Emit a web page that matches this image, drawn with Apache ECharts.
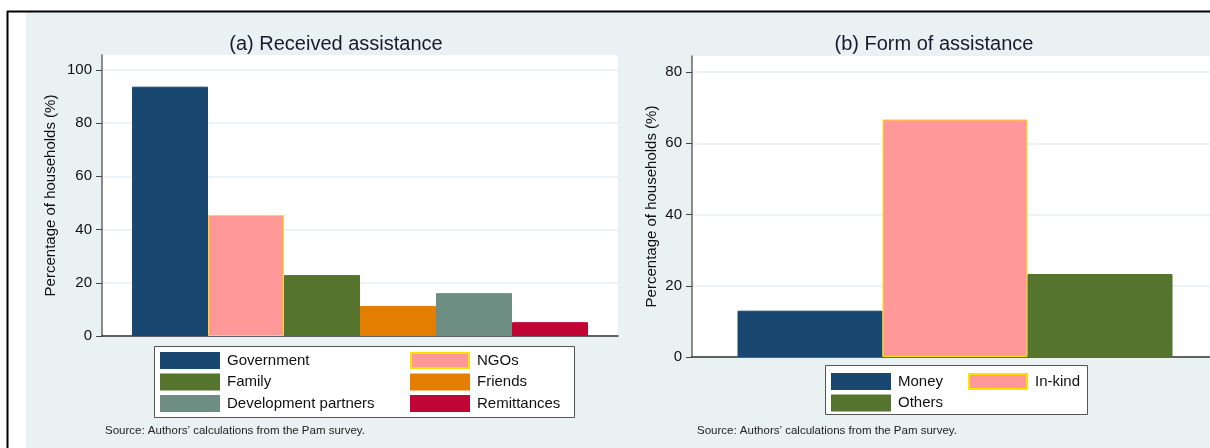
<!DOCTYPE html>
<html>
<head>
<meta charset="utf-8">
<script src="https://cdn.jsdelivr.net/npm/echarts@6/dist/echarts.min.js"></script>
<style>
  html, body { margin: 0; padding: 0; background: #fff; }
  #chart { width: 1210px; height: 448px; }
</style>
</head>
<body>
<div id="chart"></div>
<script>
// (a) Received assistance
const receivedNames = ['Government', 'NGOs', 'Family', 'Friends', 'Development partners', 'Remittances'];
const receivedValues = [93.7, 45.5, 22.9, 11.3, 16.1, 5.2];
const receivedColors = ['#1a476f', '#ff9999', '#55752f', '#e37e00', '#6e8e84', '#c10534'];
const receivedTicks = [0, 20, 40, 60, 80, 100];

// (b) Form of assistance
const formNames = ['Money', 'In-kind', 'Others'];
const formValues = [13.0, 66.7, 23.3];
const formColors = ['#1a476f', '#ff9999', '#55752f'];
const formTicks = [0, 20, 40, 60, 80];

const yTitle = 'Percentage of households (%)';
const sourceNote = 'Source: Authors\u2019 calculations from the Pam survey.';

const FONT = 'Liberation Sans, Arial, sans-serif';
const chart = echarts.init(document.getElementById('chart'));

// one series per bar, all in a single category so they sit side by side
function makeSeries(names, values, colors, axisIdx, width) {
  return names.map((name, i) => ({
    name: name,
    type: 'bar',
    xAxisIndex: axisIdx,
    yAxisIndex: axisIdx,
    barWidth: width,
    barGap: '0%',
    data: [values[i]],
    itemStyle: {
      color: colors[i],
      borderColor: colors[i] === '#ff9999' ? '#ffe100' : colors[i],
      borderWidth: 1
    },
    emphasis: { disabled: true }
  }));
}

function yAxisFor(idx, max, ticks, gap) {
  return {
    type: 'value',
    gridIndex: idx,
    min: 0,
    max: max,
    interval: 20,
    name: yTitle,
    nameLocation: 'middle',
    nameRotate: 90,
    nameGap: gap,
    nameTextStyle: { fontSize: 15, color: '#111', fontFamily: FONT },
    axisLine: { show: true, lineStyle: { color: '#666', width: 1.5 } },
    axisTick: { show: true, length: 6, lineStyle: { color: '#444' }, customValues: ticks },
    axisLabel: { color: '#111', fontSize: 15, margin: 10, fontFamily: FONT, customValues: ticks },
    splitLine: { show: true, lineStyle: { color: '#e6eef2', width: 1.5 } }
  };
}

function xAxisFor(idx) {
  return {
    type: 'category',
    gridIndex: idx,
    data: [''],
    axisLine: { show: true, lineStyle: { color: '#333', width: 1.5 } },
    axisTick: { show: false },
    axisLabel: { show: false }
  };
}

function legendCol(names, left, top) {
  return {
    data: names,
    orient: 'vertical',
    left: left,
    top: top,
    padding: 0,
    icon: 'rect',
    itemWidth: 58,
    itemHeight: 15,
    itemGap: 4.5,
    selectedMode: false,
    textStyle: { fontSize: 15, lineHeight: 15, color: '#111', fontFamily: FONT, padding: [0, 0, 0, 3] }
  };
}

const option = {
  backgroundColor: '#e9f1f3',
  animation: false,
  textStyle: { fontFamily: FONT },
  title: [
    { text: '(a) Received assistance', left: 331, top: 29, textAlign: 'center',
      textStyle: { fontSize: 20, fontWeight: 'normal', color: '#1a1a2e', fontFamily: FONT } },
    { text: '(b) Form of assistance', left: 929, top: 29, textAlign: 'center',
      textStyle: { fontSize: 20, fontWeight: 'normal', color: '#1a1a2e', fontFamily: FONT } }
  ],
  grid: [
    { left: 102, top: 55, width: 516, height: 281, show: true, backgroundColor: '#fff', borderWidth: 0 },
    { left: 692, top: 56, width: 518, height: 301, show: true, backgroundColor: '#fff', borderWidth: 0 }
  ],
  xAxis: [xAxisFor(0), xAxisFor(1)],
  yAxis: [yAxisFor(0, 105.6, receivedTicks, 44), yAxisFor(1, 84.5, formTicks, 33)],
  legend: [
    legendCol(['Government', 'Family', 'Development partners'], 160, 352),
    legendCol(['NGOs', 'Friends', 'Remittances'], 410, 352),
    legendCol(['Money', 'Others'], 831, 373),
    legendCol(['In-kind'], 968, 373)
  ],
  graphic: [
    { type: 'rect', shape: { x: 0, y: 0, width: 1210, height: 11 }, style: { fill: '#fff' }, silent: true },
    { type: 'rect', shape: { x: 0, y: 0, width: 26, height: 448 }, style: { fill: '#fff' }, silent: true },
    { type: 'line', shape: { x1: 7.5, y1: 11, x2: 7.5, y2: 448 }, style: { stroke: '#000', lineWidth: 2 }, silent: true },
    { type: 'line', shape: { x1: 7, y1: 11.5, x2: 1210, y2: 11.5 }, style: { stroke: '#000', lineWidth: 2 }, silent: true },
    { type: 'rect', z: 1, shape: { x: 154.5, y: 346.5, width: 420, height: 71 }, style: { fill: '#fff', stroke: '#555', lineWidth: 1 }, silent: true },
    { type: 'rect', z: 1, shape: { x: 825.5, y: 365.5, width: 262, height: 49 }, style: { fill: '#fff', stroke: '#555', lineWidth: 1 }, silent: true },
    { type: 'text', left: 105, top: 425, style: { text: sourceNote, fontSize: 11.5, fill: '#222', fontFamily: FONT }, silent: true },
    { type: 'text', left: 697, top: 425, style: { text: sourceNote, fontSize: 11.5, fill: '#222', fontFamily: FONT }, silent: true }
  ],
  series: [
    ...makeSeries(receivedNames, receivedValues, receivedColors, 0, 76),
    // empty spacer so the panel (b) bar group sits where the original plot put it
    { type: 'bar', name: 'spacer', xAxisIndex: 1, yAxisIndex: 1, barWidth: 8, barGap: '0%', data: [] },
    ...makeSeries(formNames, formValues, formColors, 1, 145)
  ]
};

chart.setOption(option);
</script>
</body>
</html>
